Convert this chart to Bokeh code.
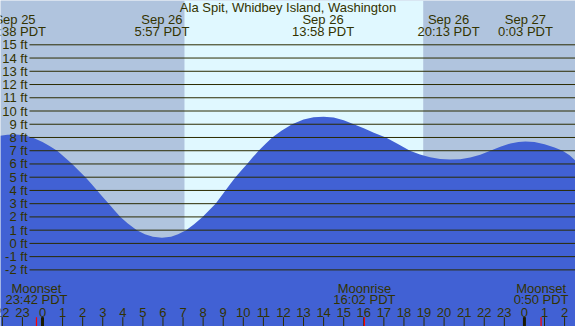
from bokeh.plotting import figure
from bokeh.models import Range1d, BoxAnnotation
from bokeh.core.properties import value
from bokeh.embed import file_html
from bokeh.resources import INLINE

# ---------------- data (hours since Sep 26 00:00 PDT, feet) ----------------
title_text = "Ala Spit, Whidbey Island, Washington"

tide_hours = [-2.1, -1.75, -1.37, -1.0, -0.5, 0.0, 0.35, 0.73, 1.1, 1.48, 1.8, 2.14,
              2.43, 2.72, 3.0, 3.3, 3.58, 3.88, 4.25, 4.7, 5.1, 5.5, 5.95, 6.4, 6.75,
              7.15, 7.55, 7.97, 8.3, 8.62, 8.87, 9.11, 9.36, 9.61, 9.9, 10.19, 10.47,
              10.76, 11.1, 11.44, 11.9, 12.43, 13.0, 13.5, 14.0, 14.5, 15.0, 15.5,
              16.0, 16.5, 17.1, 17.7, 18.3, 18.8, 19.3, 19.8, 20.3, 20.8, 21.3, 21.8,
              22.3, 22.8, 23.3, 23.7, 24.05, 24.5, 25.0, 25.5, 25.9, 26.25, 26.54, 26.7]
tide_ft = [8.14, 8.2, 8.22, 8.18, 8.0, 7.65, 7.35, 7.0, 6.5, 6.0, 5.5, 5.0,
           4.5, 4.0, 3.5, 3.0, 2.5, 2.0, 1.5, 1.0, 0.7, 0.5, 0.42, 0.5, 0.7,
           1.0, 1.45, 2.0, 2.5, 3.0, 3.5, 4.0, 4.5, 5.0, 5.5, 6.0, 6.5,
           7.0, 7.5, 8.0, 8.5, 9.0, 9.35, 9.52, 9.57, 9.5, 9.3, 9.0,
           8.7, 8.35, 8.0, 7.5, 7.0, 6.72, 6.5, 6.38, 6.33, 6.36, 6.48, 6.7,
           7.0, 7.3, 7.55, 7.66, 7.7, 7.65, 7.48, 7.25, 7.0, 6.65, 6.25, 6.05]

extreme_hours = [-1.37, 5.95, 13.97, 20.22, 24.05]
extreme_dates = ["Sep 25", "Sep 26", "Sep 26", "Sep 26", "Sep 27"]
extreme_times = ["22:38 PDT", "5:57 PDT", "13:58 PDT", "20:13 PDT", "0:03 PDT"]

sunrise_hour = 7.07
sunset_hour = 18.96

moon_hours = [-0.3, 16.03, 24.83]
moon_events = ["Moonset", "Moonrise", "Moonset"]
moon_times = ["23:42 PDT", "16:02 PDT", "0:50 PDT"]

ft_ticks = [-2, -1, 0, 1, 2, 3, 4, 5, 6, 7, 8, 9, 10, 11, 12, 13, 14, 15]
ft_labels = ["-2 ft", "-1 ft", "0 ft", "1 ft", "2 ft", "3 ft", "4 ft", "5 ft", "6 ft",
             "7 ft", "8 ft", "9 ft", "10 ft", "11 ft", "12 ft", "13 ft", "14 ft", "15 ft"]

hour_ticks = [-2, -1, 0, 1, 2, 3, 4, 5, 6, 7, 8, 9, 10, 11, 12, 13, 14, 15, 16, 17,
              18, 19, 20, 21, 22, 23, 24, 25, 26]
hour_labels = ["22", "23", "0", "1", "2", "3", "4", "5", "6", "7", "8", "9", "10", "11",
               "12", "13", "14", "15", "16", "17", "18", "19", "20", "21", "22", "23",
               "0", "1", "2"]
midnight_hours = [0, 24]

# ---------------- layout helpers ----------------
W, H = 575, 326
REF_W, REF_H = 575, 326
PX_PER_H, X0_PX = 20.08, 42.0
PX_PER_FT, Y15_PX = 13.24, 44.3


def rx(px):
    return (px - X0_PX) / PX_PER_H


def ry(px):
    return 15 - (px - Y15_PX) / PX_PER_FT


NIGHT = "#B0C4DE"
DAY = "#E0F8FF"
WATER = "#4161D4"
INK = "#333300"
LINE = "#2B2B00"
FONT = value("Liberation Sans")
FS = value("13px")

x_start, x_end = rx(0), rx(REF_W)
y_start, y_end = ry(REF_H), ry(0)

p = figure(width=W, height=H, x_range=Range1d(x_start, x_end),
           y_range=Range1d(y_start, y_end), x_axis_type=None, y_axis_type=None,
           output_backend="svg", toolbar_location=None, min_border=0)
p.grid.visible = False
p.outline_line_color = None
p.background_fill_color = NIGHT
p.border_fill_color = NIGHT

p.add_layout(BoxAnnotation(left=sunrise_hour, right=sunset_hour, fill_color=DAY,
                           fill_alpha=1, line_color=None, level="underlay"))

p.varea(x=tide_hours, y1=y_start - 2, y2=tide_ft, fill_color=WATER)

p.segment(x0=rx(29), x1=x_end + 1, y0=ft_ticks, y1=ft_ticks, line_color=LINE, line_width=1)

p.text(x=rx(27), y=ft_ticks, text=ft_labels, text_align="right", text_baseline="middle",
       text_font=FONT, text_font_size=FS, text_color=INK)

p.text(x=rx(REF_W / 2), y=ry(6.7), text=[title_text], text_align="center",
       text_baseline="middle", text_font=FONT, text_font_size=FS, text_color=INK)
p.text(x=extreme_hours, y=ry(19.3), text=extreme_dates, text_align="center",
       text_baseline="middle", text_font=FONT, text_font_size=FS, text_color=INK)
p.text(x=extreme_hours, y=ry(31.2), text=extreme_times, text_align="center",
       text_baseline="middle", text_font=FONT, text_font_size=FS, text_color=INK)

p.text(x=moon_hours, y=ry(287.5), text=moon_events, text_align="center",
       text_baseline="middle", text_font=FONT, text_font_size=FS, text_color=INK)
p.text(x=moon_hours, y=ry(299.2), text=moon_times, text_align="center",
       text_baseline="middle", text_font=FONT, text_font_size=FS, text_color=INK)

p.text(x=hour_ticks, y=ry(311.7), text=hour_labels, text_align="center",
       text_baseline="middle", text_font=FONT, text_font_size=FS, text_color=INK)

tick_top = ry(316.7)
p.segment(x0=hour_ticks, x1=hour_ticks, y0=y_start, y1=tick_top, line_color=LINE, line_width=1)
p.segment(x0=midnight_hours, x1=midnight_hours, y0=y_start, y1=tick_top,
          line_color="#1a1a00", line_width=3)
p.segment(x0=moon_hours, x1=moon_hours, y0=y_start, y1=tick_top, line_color="red", line_width=1.2)

open("out.html", "w").write(file_html(p, INLINE))
